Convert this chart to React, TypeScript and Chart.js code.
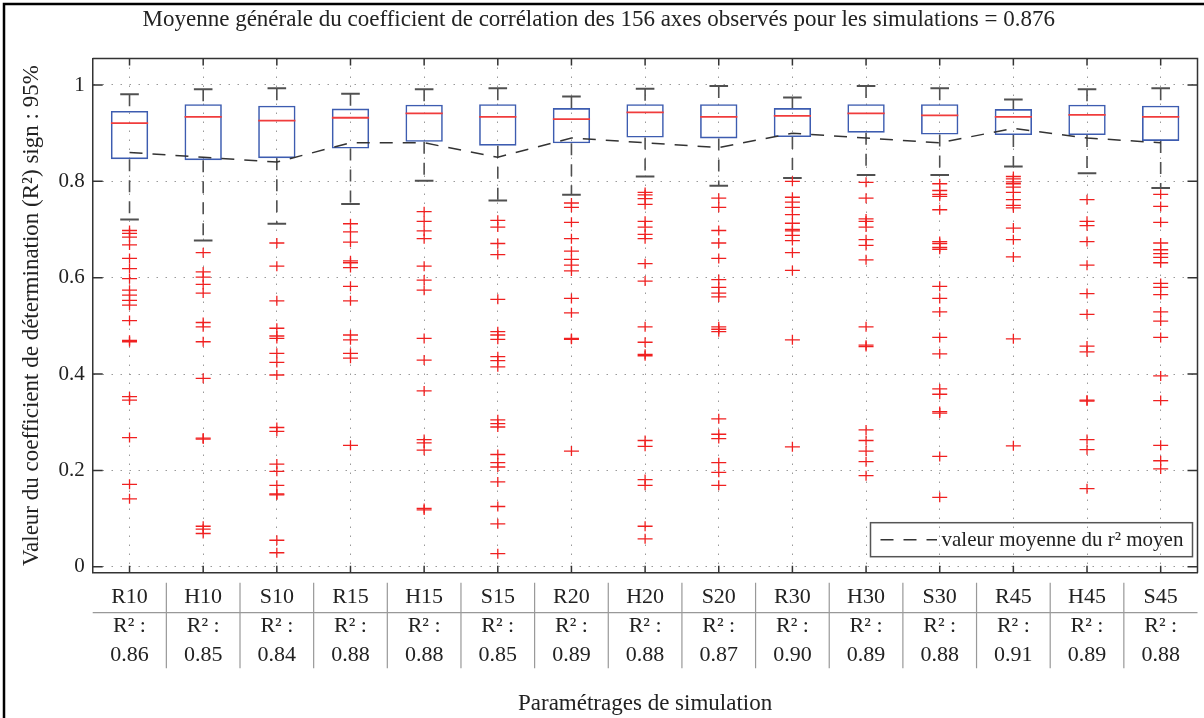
import React, { useEffect, useRef } from 'react';
import { Chart, registerables } from 'chart.js';

Chart.register(...registerables);

const FONT = '"Liberation Serif", "DejaVu Serif", serif';

const chartTitle =
  'Moyenne générale du coefficient de corrélation des 156 axes observés pour les simulations = 0.876';
const xTitle = 'Paramétrages de simulation';
const yTitle = 'Valeur du coefficient de détermination (R²) sign : 95%';
const legendLabel = 'valeur moyenne du r² moyen';

const categories = ['R10', 'H10', 'S10', 'R15', 'H15', 'S15', 'R20', 'H20', 'S20', 'R30', 'H30', 'S30', 'R45', 'H45', 'S45'];
const r2Labels = ['0.86', '0.85', '0.84', '0.88', '0.88', '0.85', '0.89', '0.88', '0.87', '0.90', '0.89', '0.88', '0.91', '0.89', '0.88'];
const r2Mean = [0.86, 0.85, 0.84, 0.88, 0.88, 0.85, 0.89, 0.88, 0.87, 0.9, 0.89, 0.88, 0.91, 0.89, 0.88];

const yTicks = [0, 0.2, 0.4, 0.6, 0.8, 1];
const yTickLabels = ['0', '0.2', '0.4', '0.6', '0.8', '1'];

const whiskerHigh = [0.981, 0.991, 0.993, 0.982, 0.991, 0.993, 0.976, 0.992, 0.998, 0.974, 0.998, 0.993, 0.97, 0.991, 0.993];
const q3 = [0.946, 0.96, 0.957, 0.951, 0.959, 0.96, 0.952, 0.96, 0.96, 0.952, 0.96, 0.96, 0.95, 0.959, 0.957];
const medians = [0.921, 0.934, 0.926, 0.932, 0.941, 0.934, 0.929, 0.943, 0.934, 0.936, 0.941, 0.937, 0.934, 0.938, 0.934];
const q1 = [0.846, 0.844, 0.848, 0.868, 0.882, 0.874, 0.879, 0.891, 0.889, 0.892, 0.901, 0.897, 0.896, 0.896, 0.884];
const whiskerLow = [0.721, 0.677, 0.712, 0.753, 0.801, 0.76, 0.772, 0.81, 0.791, 0.807, 0.813, 0.813, 0.831, 0.817, 0.786];

const outliersR10 = [0.698, 0.692, 0.684, 0.668, 0.64, 0.619, 0.598, 0.574, 0.564, 0.553, 0.543, 0.511, 0.47, 0.467, 0.353, 0.346, 0.268, 0.171, 0.141];
const outliersH10 = [0.652, 0.612, 0.601, 0.586, 0.568, 0.507, 0.498, 0.467, 0.391, 0.267, 0.265, 0.084, 0.078, 0.069];
const outliersS10 = [0.672, 0.624, 0.552, 0.495, 0.479, 0.474, 0.443, 0.424, 0.398, 0.289, 0.281, 0.213, 0.198, 0.169, 0.151, 0.149, 0.055, 0.029];
const outliersR15 = [0.712, 0.695, 0.674, 0.635, 0.631, 0.621, 0.582, 0.552, 0.481, 0.471, 0.443, 0.433, 0.252];
const outliersH15 = [0.737, 0.717, 0.697, 0.681, 0.624, 0.595, 0.574, 0.474, 0.429, 0.365, 0.264, 0.257, 0.242, 0.121, 0.118];
const outliersS15 = [0.719, 0.705, 0.671, 0.648, 0.555, 0.488, 0.481, 0.472, 0.436, 0.428, 0.415, 0.305, 0.297, 0.29, 0.233, 0.216, 0.207, 0.176, 0.125, 0.089, 0.027];
const outliersR20 = [0.755, 0.746, 0.715, 0.681, 0.655, 0.638, 0.626, 0.614, 0.557, 0.527, 0.474, 0.472, 0.24];
const outliersH20 = [0.777, 0.772, 0.764, 0.752, 0.717, 0.705, 0.69, 0.681, 0.629, 0.593, 0.498, 0.466, 0.441, 0.438, 0.262, 0.25, 0.181, 0.169, 0.084, 0.058];
const outliersS20 = [0.765, 0.746, 0.698, 0.672, 0.64, 0.596, 0.58, 0.568, 0.56, 0.498, 0.493, 0.488, 0.307, 0.275, 0.266, 0.216, 0.196, 0.169];
const outliersR30 = [0.8, 0.767, 0.757, 0.746, 0.731, 0.713, 0.7, 0.697, 0.688, 0.677, 0.652, 0.615, 0.471, 0.249];
const outliersH30 = [0.798, 0.765, 0.722, 0.717, 0.705, 0.679, 0.667, 0.637, 0.498, 0.46, 0.457, 0.284, 0.262, 0.24, 0.218, 0.189];
const outliersS30 = [0.795, 0.781, 0.773, 0.769, 0.741, 0.675, 0.671, 0.663, 0.659, 0.582, 0.557, 0.529, 0.476, 0.442, 0.369, 0.358, 0.322, 0.319, 0.229, 0.144];
const outliersR45 = [0.81, 0.805, 0.799, 0.795, 0.788, 0.777, 0.762, 0.75, 0.745, 0.703, 0.679, 0.643, 0.473, 0.251];
const outliersH45 = [0.762, 0.717, 0.708, 0.675, 0.626, 0.567, 0.524, 0.458, 0.446, 0.346, 0.344, 0.264, 0.243, 0.162];
const outliersS45 = [0.773, 0.748, 0.715, 0.672, 0.658, 0.65, 0.642, 0.631, 0.588, 0.58, 0.565, 0.529, 0.51, 0.476, 0.396, 0.345, 0.252, 0.22, 0.203];

const outliers = [
  outliersR10, outliersH10, outliersS10, outliersR15, outliersH15, outliersS15, outliersR20, outliersH20,
  outliersS20, outliersR30, outliersH30, outliersS30, outliersR45, outliersH45, outliersS45,
];

const matlabPlugin = {
  id: 'matlabDecor',
  afterDraw(chart: any) {
    const { ctx, chartArea: ca } = chart;
    const xs = chart.scales.x;
    const ys = chart.scales.y;
    ctx.save();
    // top and right box lines
    ctx.strokeStyle = '#333';
    ctx.lineWidth = 1.5;
    ctx.beginPath();
    ctx.moveTo(ca.left, ca.top);
    ctx.lineTo(ca.right, ca.top);
    ctx.lineTo(ca.right, ca.bottom);
    ctx.stroke();
    // inward ticks
    ctx.beginPath();
    yTicks.forEach((v) => {
      const py = ys.getPixelForValue(v);
      ctx.moveTo(ca.left, py);
      ctx.lineTo(ca.left + 10, py);
      ctx.moveTo(ca.right, py);
      ctx.lineTo(ca.right - 10, py);
    });
    categories.forEach((_, i) => {
      const px = xs.getPixelForValue(i);
      ctx.moveTo(px, ca.bottom);
      ctx.lineTo(px, ca.bottom - 7);
      ctx.moveTo(px, ca.top);
      ctx.lineTo(px, ca.top + 7);
    });
    ctx.stroke();

    // table lines below the axis
    ctx.strokeStyle = '#999';
    ctx.lineWidth = 1.2;
    ctx.beginPath();
    const rowY = xs.top + 40;
    ctx.moveTo(ca.left, rowY);
    ctx.lineTo(ca.right, rowY);
    for (let i = 0; i < categories.length - 1; i++) {
      const sx = (xs.getPixelForValue(i) + xs.getPixelForValue(i + 1)) / 2;
      ctx.moveTo(sx, xs.top + 10);
      ctx.lineTo(sx, xs.top + 95.5);
    }
    ctx.stroke();

    // legend inside plot
    const bw = 322;
    const bh = 34;
    const bx = ca.right - 327;
    const by = ca.bottom - 50;
    ctx.strokeStyle = '#555';
    ctx.lineWidth = 1.5;
    ctx.strokeRect(bx, by, bw, bh);
    ctx.strokeStyle = '#333';
    ctx.setLineDash([13, 10]);
    ctx.beginPath();
    ctx.moveTo(bx + 10, by + bh / 2);
    ctx.lineTo(bx + 66.5, by + bh / 2);
    ctx.stroke();
    ctx.setLineDash([]);
    ctx.fillStyle = '#222';
    ctx.font = `21px ${FONT}`;
    ctx.textBaseline = 'middle';
    ctx.textAlign = 'left';
    ctx.fillText(legendLabel, bx + 71, by + bh / 2 + 1);

    // outer figure frame
    ctx.strokeStyle = '#000';
    ctx.lineWidth = 2.5;
    ctx.beginPath();
    ctx.moveTo(4, 718);
    ctx.lineTo(4, 4);
    ctx.lineTo(1204, 4);
    ctx.stroke();
    ctx.restore();
  },
};

export default function App() {
  const ref = useRef<HTMLCanvasElement>(null);

  useEffect(() => {
    const canvas = ref.current;
    if (!canvas) return;

    const whiskerData: any[] = [];
    const capData: any[] = [];
    const medianData: any[] = [];
    const outlierData: any[] = [];
    categories.forEach((c, i) => {
      whiskerData.push(
        { x: c, y: whiskerHigh[i] },
        { x: c, y: q3[i] },
        { x: c, y: null },
        { x: c, y: q1[i] },
        { x: c, y: whiskerLow[i] },
        { x: c, y: null },
      );
      capData.push({ x: c, y: whiskerHigh[i] }, { x: c, y: whiskerLow[i] });
      medianData.push({ x: c, y: medians[i] });
      outliers[i].forEach((v) => outlierData.push({ x: c, y: v }));
    });

    const chart = new Chart(canvas, {
      type: 'bar',
      data: {
        labels: categories,
        datasets: [
          {
            type: 'bar',
            label: 'box',
            data: q1.map((v, i) => [v, q3[i]]) as any,
            backgroundColor: 'rgba(0,0,0,0)',
            borderColor: '#3d5cb0',
            borderWidth: 1.6,
            borderSkipped: false,
            barPercentage: 0.507,
            categoryPercentage: 1,
            order: 6,
          },
          {
            type: 'line',
            label: 'whiskers',
            data: whiskerData,
            borderColor: '#505050',
            borderWidth: 1.6,
            borderDash: [12, 9],
            pointRadius: 0,
            spanGaps: false,
            order: 5,
          },
          {
            type: 'line',
            label: 'caps',
            data: capData,
            showLine: false,
            pointStyle: 'line',
            pointRadius: 9.3,
            pointBorderWidth: 2,
            borderColor: '#505050',
            pointBorderColor: '#505050',
            order: 4,
          },
          {
            type: 'line',
            label: 'median',
            data: medianData,
            showLine: false,
            pointStyle: 'line',
            pointRadius: 18.6,
            pointBorderWidth: 1.8,
            borderColor: '#f03c3c',
            pointBorderColor: '#f03c3c',
            order: 3,
          },
          {
            type: 'line',
            label: 'outliers-h',
            data: outlierData,
            showLine: false,
            pointStyle: 'line',
            pointRadius: 7.5,
            pointBorderWidth: 1.3,
            borderColor: '#f02020',
            pointBorderColor: '#f02020',
            order: 2,
          },
          {
            type: 'line',
            label: 'outliers-v',
            data: outlierData,
            showLine: false,
            pointStyle: 'line',
            pointRotation: 90,
            pointRadius: 5,
            pointBorderWidth: 1.3,
            borderColor: '#f02020',
            pointBorderColor: '#f02020',
            order: 2,
          },
          {
            type: 'line',
            label: legendLabel,
            data: r2Mean,
            borderColor: '#333',
            borderWidth: 1.5,
            borderDash: [13, 10],
            pointRadius: 0,
            order: 1,
          },
        ],
      },
      options: {
        responsive: false,
        animation: false,
        layout: { autoPadding: false, padding: { left: 0, right: 6.5, top: 0, bottom: 0 } },
        plugins: {
          legend: { display: false },
          tooltip: { enabled: false },
          title: {
            display: true,
            text: chartTitle,
            color: '#222',
            font: { family: FONT, size: 23, weight: 'normal' },
            padding: { top: 6.2, bottom: 24.7 },
          },
        },
        scales: {
          x: {
            type: 'category',
            offset: true,
            grid: {
              display: true,
              offset: false,
              drawTicks: false,
              color: '#9a9a9a',
              lineWidth: 1,
            },
            border: { display: true, color: '#333', width: 1.5, dash: [1.5, 7.5] },
            ticks: {
              autoSkip: false,
              maxRotation: 0,
              padding: 10.3,
              color: '#222',
              font: { family: FONT, size: 22, lineHeight: 1.32 },
              callback: (_v: any, i: number) => [categories[i], 'R² :', r2Labels[i]],
            },
            title: {
              display: true,
              text: xTitle,
              color: '#222',
              font: { family: FONT, size: 23 },
              padding: { top: 0, bottom: 0.2 },
            },
            afterFit: (s: any) => {
              s.height = 145.3;
              s.paddingLeft = 0;
              s.paddingRight = 0;
            },
          },
          y: {
            type: 'linear',
            min: -0.0124,
            max: 1.055,
            afterBuildTicks: (s: any) => {
              s.ticks = yTicks.map((v) => ({ value: v }));
            },
            grid: {
              display: true,
              drawTicks: false,
              color: '#9a9a9a',
              lineWidth: 1,
            },
            border: { display: true, color: '#333', width: 1.5, dash: [1.5, 7.5] },
            ticks: {
              padding: 8,
              color: '#222',
              font: { family: FONT, size: 21 },
              callback: (v: any) => {
                const k = yTicks.indexOf(Number(v));
                return k >= 0 ? yTickLabels[k] : '';
              },
            },
            title: {
              display: true,
              text: yTitle,
              color: '#222',
              font: { family: FONT, size: 23 },
              padding: { top: 18.2, bottom: 0 },
            },
            afterFit: (s: any) => {
              s.width = 92.7;
              s.paddingTop = 0;
              s.paddingBottom = 0;
            },
          },
        },
      },
      plugins: [matlabPlugin],
    });

    return () => chart.destroy();
  }, []);

  return (
    <div style={{ position: 'fixed', left: 0, top: 0, width: 1204, height: 718, background: '#fff' }}>
      <canvas ref={ref} width={1204} height={718} style={{ width: 1204, height: 718, display: 'block' }} />
    </div>
  );
}
